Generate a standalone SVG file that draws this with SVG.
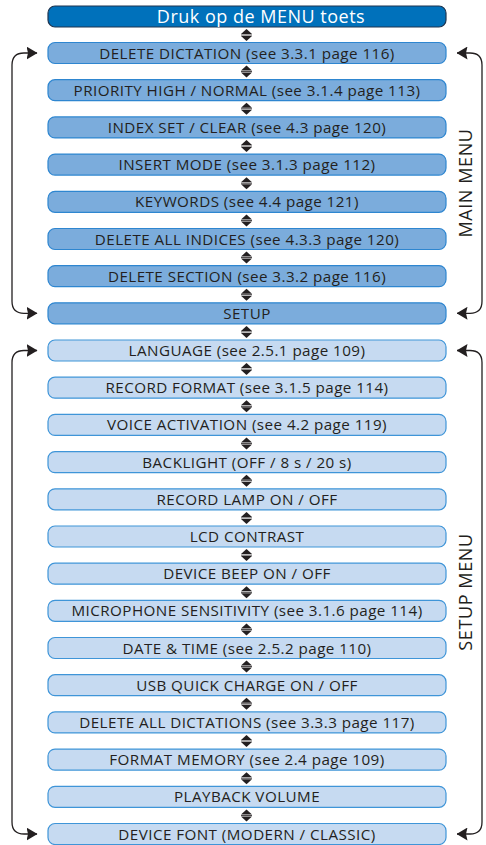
<svg xmlns="http://www.w3.org/2000/svg" width="486" height="845" viewBox="0 0 486 845">
<style>
.bx{stroke-width:1.2}
.main{fill:#7BACDC;stroke:#2E86D0}
.setup{fill:#C6DAF1;stroke:#3F95D8}
.top{fill:#0071BB;stroke:#1E3550}
.t{font-family:"Open Sans","Liberation Sans",sans-serif;font-size:15.2px;letter-spacing:0.45px;fill:#231F20;text-anchor:middle}
.tw{font-family:"Open Sans","Liberation Sans",sans-serif;font-size:18px;letter-spacing:0.5px;fill:#FFFFFF;text-anchor:middle}
.side{font-family:"Open Sans","Liberation Sans",sans-serif;font-size:18px;letter-spacing:0.6px;fill:#231F20;text-anchor:middle}
.c{fill:none;stroke:#231F20;stroke-width:1.3}
</style>
<defs>
<marker id="ah" markerUnits="userSpaceOnUse" markerWidth="11" markerHeight="13" viewBox="0 0 11 13" refX="10.5" refY="6.5" orient="auto-start-reverse">
<path d="M0 0 L11 6.5 L0 13 L1.5 6.5 Z" fill="#231F20"/>
</marker>
<g id="dbl" fill="#231F20">
<path d="M-5.5 -1 L0 -6 L5.5 -1 Z"/>
<path d="M-5.5 1 L0 6 L5.5 1 Z"/>
<rect x="-5.5" y="-0.4" width="11" height="0.8"/>
</g>
</defs>

<g id="connectors">
<path class="c" d="M37 53 H24 Q12 53 12 65 V301.3 Q12 313.3 24 313.3 H37" marker-start="url(#ah)" marker-end="url(#ah)"/>
<path class="c" d="M457 53 H470 Q482 53 482 65 V301.3 Q482 313.3 470 313.3 H457" marker-start="url(#ah)" marker-end="url(#ah)"/>
<path class="c" d="M37 350.5 H24 Q12 350.5 12 362.5 V822 Q12 834 24 834 H37" marker-start="url(#ah)" marker-end="url(#ah)"/>
<path class="c" d="M457 350.5 H470 Q482 350.5 482 362.5 V822 Q482 834 470 834 H457" marker-start="url(#ah)" marker-end="url(#ah)"/>
<use href="#dbl" x="246.5" y="35"/>
<use href="#dbl" x="246.5" y="71.6"/>
<use href="#dbl" x="246.5" y="108.8"/>
<use href="#dbl" x="246.5" y="146"/>
<use href="#dbl" x="246.5" y="183.2"/>
<use href="#dbl" x="246.5" y="220.4"/>
<use href="#dbl" x="246.5" y="257.6"/>
<use href="#dbl" x="246.5" y="294.7"/>
<use href="#dbl" x="246.5" y="331.9"/>
<use href="#dbl" x="246.5" y="369.1"/>
<use href="#dbl" x="246.5" y="406.3"/>
<use href="#dbl" x="246.5" y="443.5"/>
<use href="#dbl" x="246.5" y="480.7"/>
<use href="#dbl" x="246.5" y="517.9"/>
<use href="#dbl" x="246.5" y="555.1"/>
<use href="#dbl" x="246.5" y="592.3"/>
<use href="#dbl" x="246.5" y="629.4"/>
<use href="#dbl" x="246.5" y="666.6"/>
<use href="#dbl" x="246.5" y="703.8"/>
<use href="#dbl" x="246.5" y="741"/>
<use href="#dbl" x="246.5" y="778.2"/>
<use href="#dbl" x="246.5" y="815.4"/>
</g>

<g id="n-start"><rect class="bx top" x="48" y="6" width="398" height="21" rx="7"/><text class="tw" x="261" y="23">Druk op de MENU toets</text></g>

<g id="n1"><rect class="bx main" x="48" y="42.5" width="398" height="21" rx="7"/><text class="t" x="247" y="58.5">DELETE DICTATION (see 3.3.1 page 116)</text></g>
<g id="n2"><rect class="bx main" x="48" y="79.7" width="398" height="21" rx="7"/><text class="t" x="247" y="95.7">PRIORITY HIGH / NORMAL (see 3.1.4 page 113)</text></g>
<g id="n3"><rect class="bx main" x="48" y="116.9" width="398" height="21" rx="7"/><text class="t" x="247" y="132.9">INDEX SET / CLEAR (see 4.3 page 120)</text></g>
<g id="n4"><rect class="bx main" x="48" y="154.1" width="398" height="21" rx="7"/><text class="t" x="247" y="170.1">INSERT MODE (see 3.1.3 page 112)</text></g>
<g id="n5"><rect class="bx main" x="48" y="191.3" width="398" height="21" rx="7"/><text class="t" x="247" y="207.3">KEYWORDS (see 4.4 page 121)</text></g>
<g id="n6"><rect class="bx main" x="48" y="228.5" width="398" height="21" rx="7"/><text class="t" x="247" y="244.5">DELETE ALL INDICES (see 4.3.3 page 120)</text></g>
<g id="n7"><rect class="bx main" x="48" y="265.6" width="398" height="21" rx="7"/><text class="t" x="247" y="281.6">DELETE SECTION (see 3.3.2 page 116)</text></g>
<g id="n8"><rect class="bx main" x="48" y="302.8" width="398" height="21" rx="7"/><text class="t" x="247" y="318.8">SETUP</text></g>

<g id="s1"><rect class="bx setup" x="48" y="340" width="398" height="21" rx="7"/><text class="t" x="247" y="356">LANGUAGE (see 2.5.1 page 109)</text></g>
<g id="s2"><rect class="bx setup" x="48" y="377.2" width="398" height="21" rx="7"/><text class="t" x="247" y="393.2">RECORD FORMAT (see 3.1.5 page 114)</text></g>
<g id="s3"><rect class="bx setup" x="48" y="414.4" width="398" height="21" rx="7"/><text class="t" x="247" y="430.4">VOICE ACTIVATION (see 4.2 page 119)</text></g>
<g id="s4"><rect class="bx setup" x="48" y="451.6" width="398" height="21" rx="7"/><text class="t" x="247" y="467.6">BACKLIGHT (OFF / 8 s / 20 s)</text></g>
<g id="s5"><rect class="bx setup" x="48" y="488.8" width="398" height="21" rx="7"/><text class="t" x="247" y="504.8">RECORD LAMP ON / OFF</text></g>
<g id="s6"><rect class="bx setup" x="48" y="526" width="398" height="21" rx="7"/><text class="t" x="247" y="542">LCD CONTRAST</text></g>
<g id="s7"><rect class="bx setup" x="48" y="563.2" width="398" height="21" rx="7"/><text class="t" x="247" y="579.2">DEVICE BEEP ON / OFF</text></g>
<g id="s8"><rect class="bx setup" x="48" y="600.3" width="398" height="21" rx="7"/><text class="t" x="247" y="616.3">MICROPHONE SENSITIVITY (see 3.1.6 page 114)</text></g>
<g id="s9"><rect class="bx setup" x="48" y="637.5" width="398" height="21" rx="7"/><text class="t" x="247" y="653.5">DATE &amp; TIME (see 2.5.2 page 110)</text></g>
<g id="s10"><rect class="bx setup" x="48" y="674.7" width="398" height="21" rx="7"/><text class="t" x="247" y="690.7">USB QUICK CHARGE ON / OFF</text></g>
<g id="s11"><rect class="bx setup" x="48" y="711.9" width="398" height="21" rx="7"/><text class="t" x="247" y="727.9">DELETE ALL DICTATIONS (see 3.3.3 page 117)</text></g>
<g id="s12"><rect class="bx setup" x="48" y="749.1" width="398" height="21" rx="7"/><text class="t" x="247" y="765.1">FORMAT MEMORY (see 2.4 page 109)</text></g>
<g id="s13"><rect class="bx setup" x="48" y="786.3" width="398" height="21" rx="7"/><text class="t" x="247" y="802.3">PLAYBACK VOLUME</text></g>
<g id="s14"><rect class="bx setup" x="48" y="823.5" width="398" height="21" rx="7"/><text class="t" x="247" y="839.5">DEVICE FONT (MODERN / CLASSIC)</text></g>

<g id="label-main"><text class="side" transform="translate(472 183) rotate(-90)">MAIN MENU</text></g>
<g id="label-setup"><text class="side" transform="translate(472 592) rotate(-90)">SETUP MENU</text></g>
</svg>
